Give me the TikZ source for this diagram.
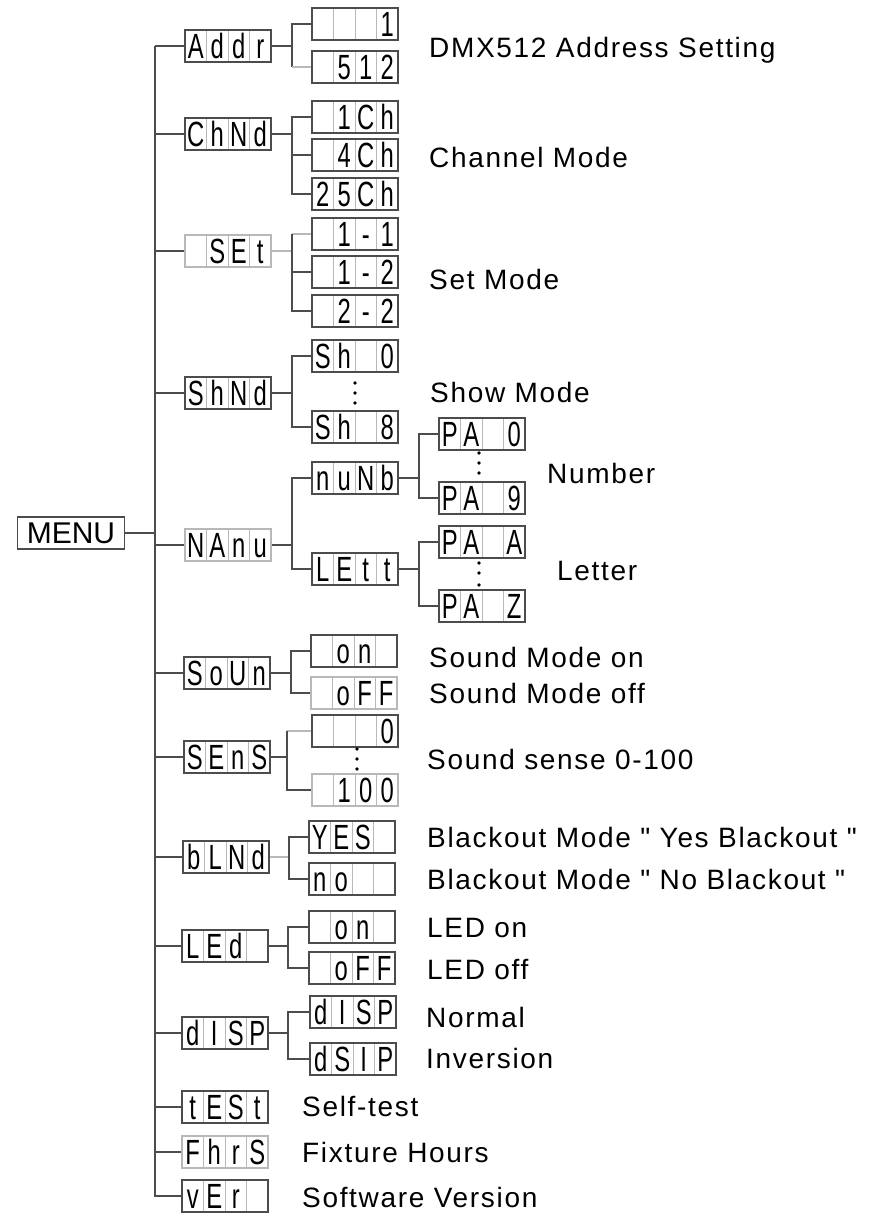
\documentclass[tikz,border=0pt]{standalone}
\usepackage{fontspec}
\setmainfont{Liberation Sans}
\newfontfamily\lblfont[LetterSpace=6]{Liberation Sans}
\newfontfamily\segfont[FakeStretch=0.68]{Liberation Sans}
\usepackage{tikz}

\definecolor{dgray}{gray}{0.3}
\definecolor{lgray}{gray}{0.72}

% four cells of a display
\newcommand{\seg}[4]{\makebox[21.5pt]{#1}\makebox[21.5pt]{#2}\makebox[21.5pt]{#3}\makebox[21.5pt]{#4}}

\tikzset{
  disp/.style={draw=dgray, line width=1.6pt, inner sep=0pt, minimum width=86pt, minimum height=32pt,
    text height=25pt, text depth=0pt, font=\segfont\fontsize{35}{35}\selectfont,
    path picture={
      \draw[lgray, line width=0.9pt] ([xshift=21.5pt]path picture bounding box.south west) -- ([xshift=21.5pt]path picture bounding box.north west);
      \draw[lgray, line width=0.9pt] ([xshift=43pt]path picture bounding box.south west) -- ([xshift=43pt]path picture bounding box.north west);
      \draw[lgray, line width=0.9pt] ([xshift=64.5pt]path picture bounding box.south west) -- ([xshift=64.5pt]path picture bounding box.north west);
    }},
  ldisp/.style={disp, draw=lgray},
  conn/.style={dgray, line width=1.5pt},
  lconn/.style={lgray, line width=1.3pt},
  lbl/.style={anchor=base west, inner sep=0pt, font=\lblfont\fontsize{28}{30}\selectfont},
  dot/.style={fill=black}
}

\begin{document}
\begin{tikzpicture}[x=1pt, y=-1pt]
\useasboundingbox (0,0) rectangle (879,1216);

\node[draw=dgray, line width=1.6pt, inner sep=0pt, minimum width=107pt, minimum height=32pt, font=\fontsize{30}{30}\selectfont] (menu) at (71,533) {MENU};

% first level
\path (228,46) node[disp] (addr) {\seg{A}{d}{d}{r}};
\path (228,134) node[disp] (chnd) {\seg{C}{h}{N}{d}};
\path (228,251) node[ldisp] (set) {\seg{}{S}{E}{t}};
\path (228,393) node[disp] (shnd) {\seg{S}{h}{N}{d}};
\path (228,545) node[ldisp] (manu) {\seg{N}{A}{n}{u}};
\path (227,673) node[disp] (soun) {\seg{S}{o}{U}{n}};
\path (227,757) node[disp] (sens) {\seg{S}{E}{n}{S}};
\path (226,857) node[disp] (blnd) {\seg{b}{L}{N}{d}};
\path (225,946) node[disp] (led) {\seg{L}{E}{d}{}};
\path (225,1033) node[disp] (disp) {\seg{d}{I}{S}{P}};
\path (225,1107) node[disp] (test) {\seg{t}{E}{S}{t}};
\path (225,1152) node[ldisp] (fhrs) {\seg{F}{h}{r}{S}};
\path (225,1196) node[disp] (ver) {\seg{v}{E}{r}{}};

\coordinate (trunk) at (155,46);
\draw[conn] (trunk) |- (ver.west);
\draw[conn] (menu.east) -- (menu.east -| trunk);
\draw[conn] (addr.west) -- (addr.west -| trunk);
\draw[conn] (chnd.west) -- (chnd.west -| trunk);
\draw[conn] (set.west) -- (set.west -| trunk);
\draw[conn] (shnd.west) -- (shnd.west -| trunk);
\draw[conn] (manu.west) -- (manu.west -| trunk);
\draw[conn] (soun.west) -- (soun.west -| trunk);
\draw[conn] (sens.west) -- (sens.west -| trunk);
\draw[conn] (blnd.west) -- (blnd.west -| trunk);
\draw[conn] (led.west) -- (led.west -| trunk);
\draw[conn] (disp.west) -- (disp.west -| trunk);
\draw[conn] (test.west) -- (test.west -| trunk);
\draw[conn] (fhrs.west) -- (fhrs.west -| trunk);

% second level
\path (355,24) node[disp] (a1) {\seg{}{}{}{1}};
\path (355,67) node[disp] (a2) {\seg{}{5}{1}{2}};
\path (355,117) node[disp] (c1) {\seg{}{1}{C}{h}};
\path (355,155) node[disp] (c2) {\seg{}{4}{C}{h}};
\path (355,194) node[disp] (c3) {\seg{2}{5}{C}{h}};
\path (355,234) node[disp] (s1) {\seg{}{1}{-}{1}};
\path (355,272) node[disp] (s2) {\seg{}{1}{-}{2}};
\path (355,311) node[disp] (s3) {\seg{}{2}{-}{2}};
\path (355,356) node[disp] (sh0) {\seg{S}{h}{}{0}};
\path (355,427) node[disp] (sh8) {\seg{S}{h}{}{8}};
\path (355,478) node[disp] (numb) {\seg{n}{u}{N}{b}};
\path (355,569) node[disp] (lett) {\seg{L}{E}{t}{t}};
\path (354,651) node[disp] (son) {\seg{}{o}{n}{}};
\path (354,693) node[ldisp] (soff) {\seg{}{o}{F}{F}};
\path (355,731) node[disp] (sn0) {\seg{}{}{}{0}};
\path (355,790) node[ldisp] (sn100) {\seg{}{1}{0}{0}};
\path (352,837) node[disp] (yes) {\seg{Y}{E}{S}{}};
\path (352,879) node[disp] (no) {\seg{n}{o}{}{}};
\path (352,927) node[disp] (lon) {\seg{}{o}{n}{}};
\path (352,968) node[disp] (loff) {\seg{}{o}{F}{F}};
\path (353,1012) node[disp] (dsp1) {\seg{d}{I}{S}{P}};
\path (353,1059) node[disp] (dsp2) {\seg{d}{S}{I}{P}};

\coordinate (fa) at (292,0);
\draw[conn] (addr.east) -- (addr.east -| fa);
\draw[conn] (a1.west) -- (a1.west -| fa) -- (a2.west -| fa);
\draw[lconn] (a2.west -| fa) -- (a2.west);

\draw[conn] (chnd.east) -- (chnd.east -| fa);
\draw[conn] (c1.west) -- (c1.west -| fa) |- (c3.west);
\draw[conn] (c2.west) -- (c2.west -| fa);

\draw[lconn] (set.east) -- (set.east -| fa);
\draw[lconn] (s1.west) -- (s1.west -| fa);
\draw[conn] (s1.west -| fa) |- (s3.west);
\draw[conn] (s2.west) -- (s2.west -| fa);

\draw[conn] (shnd.east) -- (shnd.east -| fa);
\draw[conn] (sh0.west) -- (sh0.west -| fa) |- (sh8.west);
\fill[dot] (355,383) circle (1.8pt) (355,393) circle (1.8pt) (355,403) circle (1.8pt);

\draw[conn] (manu.east) -- (manu.east -| fa);
\draw[conn] (numb.west) -- (numb.west -| fa) |- (lett.west);

\coordinate (fso) at (291,0);
\draw[conn] (soun.east) -- (soun.east -| fso);
\draw[conn] (son.west) -- (son.west -| fso) |- (soff.west);

\coordinate (fsn) at (287,0);
\draw[conn] (sens.east) -- (sens.east -| fsn);
\draw[lconn] (sn0.west) -- (sn0.west -| fsn);
\draw[conn] (sn0.west -| fsn) |- (sn100.west);
\fill[dot] (357,749) circle (1.8pt) (357,759) circle (1.8pt) (357,769) circle (1.8pt);

\coordinate (fb) at (289,0);
\draw[lconn] (blnd.east) -- (blnd.east -| fb);
\draw[conn] (yes.west) -- (yes.west -| fb) |- (no.west);

\coordinate (fl) at (288,0);
\draw[conn] (led.east) -- (led.east -| fl);
\draw[conn] (lon.west) -- (lon.west -| fl) |- (loff.west);

\draw[conn] (disp.east) -- (disp.east -| fl);
\draw[conn] (dsp1.west) -- (dsp1.west -| fl) |- (dsp2.west);

% third level
\path (482,434) node[disp] (pa0) {\seg{P}{A}{}{0}};
\path (482,498) node[disp] (pa9) {\seg{P}{A}{}{9}};
\path (482,542) node[disp] (paa) {\seg{P}{A}{}{A}};
\path (482,606) node[disp] (paz) {\seg{P}{A}{}{Z}};

\coordinate (fp) at (419,0);
\draw[conn] (numb.east) -- (numb.east -| fp);
\draw[conn] (pa0.west) -- (pa0.west -| fp) |- (pa9.west);
\fill[dot] (479,453) circle (1.8pt) (479,463) circle (1.8pt) (479,473) circle (1.8pt);
\draw[conn] (lett.east) -- (lett.east -| fp);
\draw[conn] (paa.west) -- (paa.west -| fp) |- (paz.west);
\fill[dot] (479,563) circle (1.8pt) (479,573) circle (1.8pt) (479,585) circle (1.8pt);

% texts
\node[lbl] (tAddr) at (429,57) {DMX512 Address Setting};
\node[lbl] (tChnd) at (429,167) {Channel Mode};
\node[lbl] (tSet) at (429,289) {Set Mode};
\node[lbl] (tShow) at (430,402) {Show Mode};
\node[lbl] (tNumb) at (547,483) {Number};
\node[lbl] (tLett) at (557,580) {Letter};
\node[lbl] (tSon) at (429,667) {Sound Mode on};
\node[lbl] (tSoff) at (429,703) {Sound Mode off};
\node[lbl] (tSens) at (427,769) {Sound sense 0-100};
\node[lbl] (tYes) at (427,847) {Blackout Mode " Yes Blackout "};
\node[lbl] (tNo) at (427,889) {Blackout Mode " No Blackout "};
\node[lbl] (tLon) at (427,937) {LED on};
\node[lbl] (tLoff) at (427,979) {LED off};
\node[lbl] (tNorm) at (426,1027) {Normal};
\node[lbl] (tInv) at (426,1068) {Inversion};
\node[lbl] (tTest) at (302,1116) {Self-test};
\node[lbl] (tFhrs) at (302,1162) {Fixture Hours};
\node[lbl] (tVer) at (302,1207) {Software Version};
\end{tikzpicture}
\end{document}
